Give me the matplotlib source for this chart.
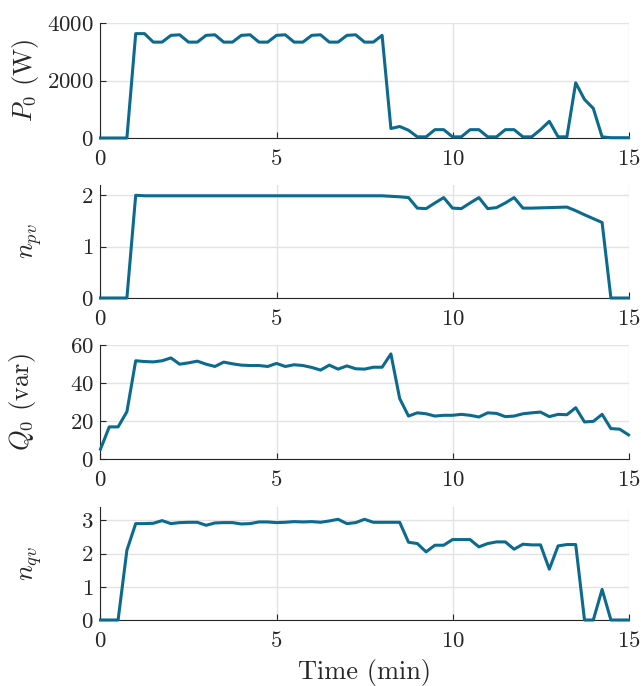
import numpy as np
import matplotlib
matplotlib.use("Agg")
import matplotlib.pyplot as plt

plt.rcParams["font.family"] = "serif"
plt.rcParams["font.serif"] = ["cmr10"]
plt.rcParams["mathtext.fontset"] = "cm"
plt.rcParams["axes.formatter.use_mathtext"] = True
plt.rcParams["axes.unicode_minus"] = False

# time axis, sampled every 0.25 min
time_min = np.arange(61) * 0.25

p0_w = [0, 0, 0, 0,
        3630, 3630, 3335, 3335,
        3570, 3590, 3335, 3335,
        3570, 3590, 3335, 3335,
        3570, 3590, 3335, 3335,
        3570, 3590, 3335, 3335,
        3570, 3590, 3335, 3335,
        3570, 3590, 3335, 3335,
        3570,
        330, 400, 270, 40, 40, 290, 290, 40, 40, 290, 290, 40, 40,
        290, 290, 40, 40, 290, 580, 40, 40, 1920, 1340, 1030, 40, 10, 10, 10]

n_pv = [0, 0, 0, 0,
        2.0, 1.99, 1.99, 1.99, 1.99, 1.99, 1.99, 1.99,
        1.99, 1.99, 1.99, 1.99, 1.99, 1.99, 1.99, 1.99,
        1.99, 1.99, 1.99, 1.99, 1.99, 1.99, 1.99, 1.99,
        1.99, 1.99, 1.99, 1.99, 1.99,
        1.98, 1.97, 1.955, 1.75, 1.74, 1.85, 1.955, 1.75, 1.74, 1.85, 1.955,
        1.74, 1.76, 1.85, 1.955, 1.75, 1.75, 1.755, 1.76, 1.765, 1.77,
        1.70, 1.62, 1.545, 1.47, 0, 0, 0]

q0_var = [5.2, 16.9, 16.9, 24.9, 51.7, 51.3, 51.1, 51.7, 53.2, 49.9, 50.6, 51.5,
          49.9, 48.7, 51.0, 50.1, 49.4, 49.2, 49.2, 48.7, 50.3, 48.7, 49.6, 49.2,
          48.2, 46.8, 49.4, 47.3, 49.0, 47.5, 47.3, 48.3, 48.3,
          55.3, 31.8, 22.6, 24.3, 23.8, 22.6, 23.0, 23.0, 23.5, 23.0, 22.1,
          24.3, 24.0, 22.3, 22.6, 23.8, 24.3, 24.7, 22.3, 23.5, 23.3, 27.0,
          19.5, 19.8, 23.5, 16.0, 15.7, 12.7]

n_qv = [0, 0, 0, 2.1, 2.9, 2.9, 2.91, 2.99, 2.9, 2.93, 2.94, 2.94,
        2.85, 2.92, 2.93, 2.93, 2.89, 2.9, 2.95, 2.95, 2.93, 2.94, 2.96, 2.95,
        2.96, 2.94, 2.98, 3.03, 2.9, 2.93, 3.03, 2.94, 2.94,
        2.94, 2.94, 2.34, 2.3, 2.05, 2.25, 2.25, 2.42, 2.42, 2.42, 2.2,
        2.3, 2.35, 2.35, 2.13, 2.28, 2.26, 2.26, 1.53, 2.23, 2.27, 2.27,
        0, 0, 0.92, 0, 0, 0]

series = [p0_w, n_pv, q0_var, n_qv]
ylabels = [r"$P_0$ (W)", r"$n_{pv}$", r"$Q_0$ (var)", r"$n_{qv}$"]
ylims = [(0, 4000), (0, 2.2), (0, 60), (0, 3.4)]
yticks = [[0, 2000, 4000], [0, 1, 2], [0, 20, 40, 60], [0, 1, 2, 3]]
# axes boxes in pixels: top, bottom
boxes = [(23, 138), (185, 298), (345, 459), (507, 620)]
label_x_px = [26, 32, 23, 32]

W, H = 641, 686
fig = plt.figure(figsize=(W / 100, H / 100), dpi=100)
line_color = "#0b6a8e"

for k in range(4):
    top, bot = boxes[k]
    ax = fig.add_axes([100.5 / W, 1 - bot / H, 528 / W, (bot - top) / H])
    ax.plot(time_min, series[k], color=line_color, lw=2.2, clip_on=False, zorder=3)
    ax.set_xlim(0, 15)
    ax.set_ylim(*ylims[k])
    ax.set_xticks([0, 5, 10, 15])
    ax.set_yticks(yticks[k])
    ax.grid(True, color="#e3e3e3", lw=1.0)
    ax.set_axisbelow(True)
    for s in ["top", "right"]:
        ax.spines[s].set_visible(False)
    for s in ["left", "bottom"]:
        ax.spines[s].set_color("#262626")
        ax.spines[s].set_linewidth(0.8)
    ax.tick_params(direction="in", length=4, width=0.8, colors="#262626",
                   labelsize=16.5, labelcolor="#262626")
    ax.tick_params(axis="x", pad=8)
    ax.tick_params(axis="y", pad=5)
    ax.set_ylabel(ylabels[k], fontsize=19, color="#262626", va="center")
    ax.yaxis.set_label_coords((label_x_px[k] - 100.5) / 528, 0.5)
    if k == 3:
        ax.set_xlabel("Time (min)", fontsize=19, color="#262626", labelpad=6)

fig.savefig("out.png", dpi=100)
